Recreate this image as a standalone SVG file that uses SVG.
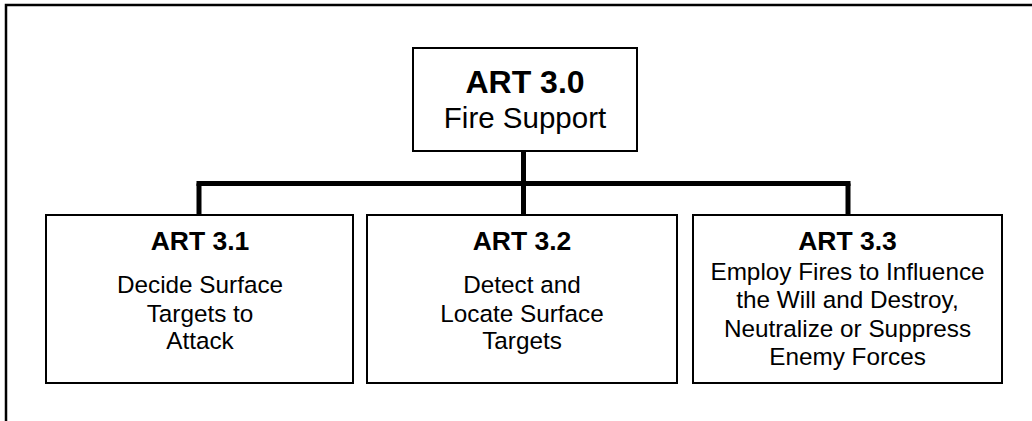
<svg xmlns="http://www.w3.org/2000/svg" width="1032" height="421" viewBox="0 0 1032 421">
<style>
.box{fill:#fff;stroke:#000;stroke-width:2}
.conn{fill:none;stroke:#000;stroke-width:5}
text{font-family:"Liberation Sans",Arial,Helvetica,sans-serif;fill:#000;text-anchor:middle}
.h0{font-size:32px;font-weight:bold}
.s0{font-size:29.5px}
.h1{font-size:26.5px;font-weight:bold}
.b{font-size:24.3px}
</style>
<rect width="1032" height="421" fill="#fff"/>
<path d="M6 421V5H1032" fill="none" stroke="#000" stroke-width="2.5"/>
<g id="connectors">
<path class="conn" d="M523.5 151V215"/>
<path class="conn" d="M196.5 183.5H850.5"/>
<path class="conn" d="M199 183.5V215"/>
<path class="conn" d="M848 183.5V215"/>
</g>
<g id="node-art30">
<rect class="box" x="413" y="48" width="224" height="103"/>
<text class="h0" x="525" y="93">ART 3.0</text>
<text class="s0" x="525" y="128">Fire Support</text>
</g>
<g id="node-art31">
<rect class="box" x="46" y="215" width="307" height="168"/>
<text class="h1" x="200" y="250">ART 3.1</text>
<text class="b" x="200" y="293">Decide Surface</text>
<text class="b" x="200" y="322">Targets to</text>
<text class="b" x="200" y="349">Attack</text>
</g>
<g id="node-art32">
<rect class="box" x="367" y="215" width="310" height="168"/>
<text class="h1" x="522" y="250">ART 3.2</text>
<text class="b" x="522" y="293">Detect and</text>
<text class="b" x="522" y="322">Locate Surface</text>
<text class="b" x="522" y="349">Targets</text>
</g>
<g id="node-art33">
<rect class="box" x="693" y="215" width="309" height="168"/>
<text class="h1" x="847.5" y="250">ART 3.3</text>
<text class="b" x="847.5" y="280">Employ Fires to Influence</text>
<text class="b" x="847.5" y="308">the Will and Destroy,</text>
<text class="b" x="847.5" y="337">Neutralize or Suppress</text>
<text class="b" x="847.5" y="365">Enemy Forces</text>
</g>
</svg>
